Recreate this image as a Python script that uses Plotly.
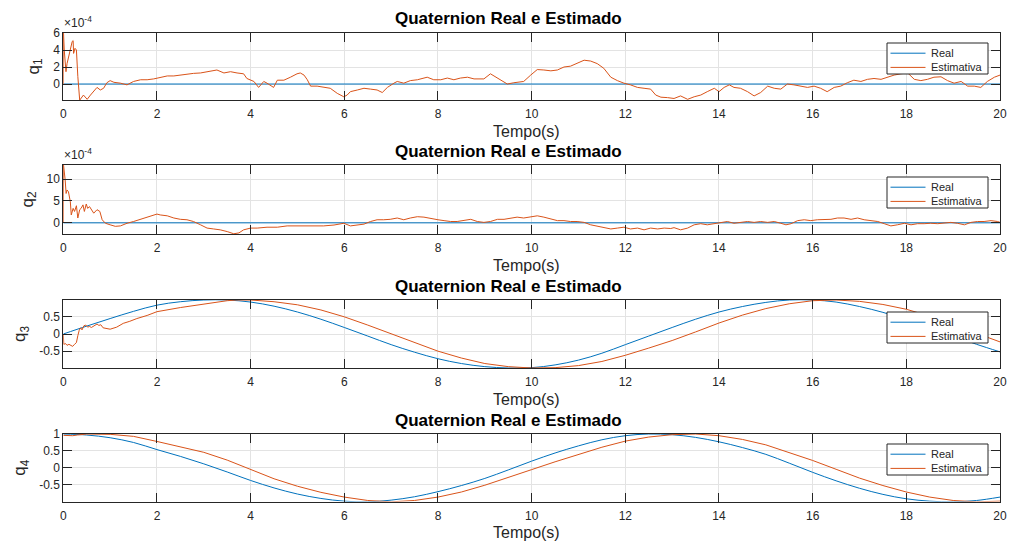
import plotly.graph_objects as go

# ---------------------------------------------------------------- data
SCALE = 1e-4  # q1 and q2 are shown in units of 1e-4

# reference (real) quaternion, q1 and q2 are zero over the whole run
t_real_flat = [0.0, 20.0]
q1_real = [0.0, 0.0]
q2_real = [0.0, 0.0]

t_real = [0.0, 0.5, 1.0, 1.5, 2.0, 2.5, 3.0, 3.5, 4.0, 4.5, 5.0, 5.5, 6.0, 6.5,
          7.0, 7.5, 8.0, 8.5, 9.0, 9.5, 10.0, 10.5, 11.0, 11.5, 12.0, 12.5,
          13.0, 13.5, 14.0, 14.5, 15.0, 15.5, 16.0, 16.5, 17.0, 17.5, 18.0,
          18.5, 19.0, 19.5, 20.0]
q3_real = [0.00, 0.23, 0.45, 0.66, 0.84, 0.94, 0.99, 0.99, 0.93, 0.81, 0.64,
           0.43, 0.19, -0.06, -0.31, -0.53, -0.72, -0.86, -0.95, -0.99, -0.98,
           -0.90, -0.76, -0.56, -0.31, -0.06, 0.19, 0.43, 0.64, 0.80, 0.92,
           0.99, 0.99, 0.93, 0.80, 0.63, 0.42, 0.19, -0.06, -0.30, -0.52]
q4_real = [1.00, 0.97, 0.89, 0.75, 0.54, 0.34, 0.12, -0.12, -0.37, -0.59,
           -0.77, -0.90, -0.98, -1.00, -0.95, -0.85, -0.70, -0.52, -0.31,
           -0.06, 0.20, 0.44, 0.65, 0.83, 0.95, 1.00, 0.98, 0.90, 0.77, 0.60,
           0.40, 0.14, -0.13, -0.38, -0.60, -0.78, -0.91, -0.98, -1.00, -0.96,
           -0.86]

# estimated quaternion
t_q1 = [0, 0.005, 0.02, 0.057, 0.08, 0.11, 0.15, 0.19, 0.21, 0.22, 0.25, 0.28,
        0.31, 0.35, 0.43, 0.51, 0.58, 0.65, 0.72, 0.79, 0.86, 0.93, 1.0, 1.08,
        1.22, 1.36, 1.5, 1.65, 1.79, 1.93, 2.07, 2.22, 2.36, 2.5, 2.64, 2.78,
        2.93, 3.07, 3.28, 3.43, 3.57, 3.71, 3.85, 3.92, 4.07, 4.17, 4.28, 4.35,
        4.42, 4.49, 4.57, 4.71, 4.85, 4.99, 5.06, 5.14, 5.21, 5.28, 5.42, 5.56,
        5.7, 5.85, 5.99, 6.06, 6.13, 6.28, 6.42, 6.56, 6.70, 6.81, 6.92, 7.06,
        7.13, 7.27, 7.41, 7.56, 7.77, 7.91, 8.06, 8.20, 8.34, 8.48, 8.63, 8.77,
        8.98, 9.12, 9.27, 9.41, 9.48, 9.62, 9.76, 9.83, 9.98, 10.12, 10.26,
        10.41, 10.55, 10.69, 10.83, 10.97, 11.12, 11.26, 11.40, 11.54, 11.69,
        11.83, 11.97, 12.11, 12.26, 12.40, 12.54, 12.65, 12.76, 12.90, 13.04,
        13.18, 13.33, 13.47, 13.61, 13.75, 13.90, 14.0, 14.11, 14.22, 14.32,
        14.46, 14.61, 14.75, 14.89, 15.04, 15.18, 15.32, 15.46, 15.6, 15.75,
        15.89, 16.03, 16.17, 16.31, 16.46, 16.6, 16.74, 16.88, 17.03, 17.17,
        17.31, 17.46, 17.6, 17.74, 17.88, 18.03, 18.17, 18.31, 18.45, 18.59,
        18.74, 18.88, 19.02, 19.17, 19.31, 19.45, 19.59, 19.73, 19.88, 20.0]
q1_est = [0, 6.0, 4.0, 1.45, 2.4, 3.2, 4.0, 5.0, 5.1, 3.6, 4.2, 4.0, 0.9, -1.9,
          -1.3, -1.8, -1.3, -0.9, -0.4, -0.7, -0.5, 0.15, 0.4, 0.2, 0.1, -0.1,
          0.3, 0.5, 0.5, 0.6, 0.8, 0.95, 0.95, 1.05, 1.2, 1.25, 1.3, 1.45, 1.65,
          1.3, 1.45, 1.3, 1.2, 0.65, 0.3, -0.4, 0.3, 0.1, -0.1, -0.4, 0.45,
          0.45, 0.8, 1.2, 1.3, 1.05, 0.5, -0.25, -0.25, -0.4, -0.5, -1.1, -1.5,
          -1.3, -0.9, -0.7, -0.5, -0.6, -0.7, -1.0, -0.4, 0.1, 0.3, 0.1, 0.4,
          0.5, 0.8, 0.5, 0.5, 0.7, 0.5, 0.7, 0.8, 0.6, 0.6, 1.2, 0.7, 0.3, 0.0,
          0.15, 0.3, 0.3, 1.05, 1.7, 1.65, 1.55, 1.65, 2.0, 2.1, 2.4, 2.8, 2.7,
          2.4, 1.85, 0.8, 0.4, 0.1, -0.1, -0.4, -0.5, -0.6, -1.3, -1.55, -1.6,
          -1.7, -1.4, -1.8, -1.5, -1.3, -0.9, -0.5, -0.9, -0.4, -0.1, -0.4,
          -0.5, -0.9, -1.4, -1.0, -0.25, -0.5, -0.6, 0.0, -0.1, -0.25, -0.4,
          -0.25, -0.5, -0.9, -0.4, -0.25, 0.15, 0.45, 0.3, 0.55, 0.65, 0.55,
          0.8, 1.05, 1.2, 1.3, 0.55, 0.4, 0.55, 0.8, 0.85, 0.4, 0.1, 0.3, -0.25,
          -0.25, -0.4, 0.3, 0.8, 1.05]

t_q2 = [0, 0.005, 0.04, 0.06, 0.08, 0.11, 0.15, 0.17, 0.21, 0.24, 0.28, 0.31,
        0.35, 0.38, 0.42, 0.45, 0.49, 0.52, 0.56, 0.59, 0.65, 0.72, 0.78, 0.83,
        0.9, 1.0, 1.11, 1.22, 1.36, 1.5, 1.65, 1.79, 1.93, 2.0, 2.07, 2.22,
        2.36, 2.5, 2.64, 2.78, 2.93, 3.07, 3.21, 3.35, 3.5, 3.64, 3.75, 3.85,
        4.0, 4.14, 4.35, 4.57, 4.78, 5.06, 5.35, 5.56, 5.78, 5.92, 5.99, 6.13,
        6.28, 6.42, 6.56, 6.70, 6.84, 6.98, 7.13, 7.27, 7.41, 7.56, 7.70, 7.84,
        8.0, 8.13, 8.27, 8.41, 8.56, 8.70, 8.84, 8.98, 9.12, 9.27, 9.41, 9.55,
        9.69, 9.83, 9.98, 10.12, 10.26, 10.41, 10.55, 10.69, 10.83, 10.97,
        11.12, 11.26, 11.40, 11.54, 11.69, 11.83, 11.97, 12.11, 12.26, 12.40,
        12.54, 12.69, 12.83, 12.97, 13.04, 13.18, 13.33, 13.47, 13.61, 13.75,
        13.90, 14.04, 14.18, 14.32, 14.46, 14.61, 14.75, 14.89, 15.04, 15.18,
        15.32, 15.43, 15.54, 15.68, 15.82, 15.96, 16.1, 16.25, 16.39, 16.53,
        16.67, 16.82, 16.96, 17.1, 17.25, 17.39, 17.53, 17.67, 17.81, 17.96,
        18.1, 18.24, 18.38, 18.52, 18.67, 18.81, 18.95, 19.09, 19.24, 19.38,
        19.52, 19.66, 19.81, 19.95, 20.0]
q2_est = [0, 13.2, 9.8, 6.7, 7.5, 7.1, 4.8, 1.8, 3.3, 2.6, 3.9, 1.1, 3.0, 3.3,
          4.1, 2.6, 4.3, 3.3, 3.7, 3.1, 2.2, 3.0, 2.6, 0.7, -0.1, -0.45, -0.8,
          -0.7, -0.1, 0.3, 0.8, 1.3, 1.8, 2.0, 1.8, 1.6, 1.1, 0.8, 0.7, 0.3,
          -0.45, -1.2, -1.4, -1.6, -2.0, -2.5, -2.3, -1.6, -1.2, -1.2, -1.0,
          -1.0, -0.7, -0.7, -0.8, -0.7, -0.5, -0.2, -0.1, -0.7, -0.45, -0.3,
          0.3, 0.7, 0.7, 0.8, 1.1, 0.7, 1.1, 1.4, 1.3, 1.1, 0.7, 0.5, 0.3, 0.3,
          0.5, 0.8, 0.3, 0.1, 0.3, 0.8, 0.8, 1.1, 1.3, 1.1, 1.3, 1.6, 1.3, 0.8,
          0.5, 0.5, 0.3, 0.3, 0.1, -0.45, -0.8, -1.2, -1.4, -1.2, -1.0, -1.4,
          -1.2, -1.6, -1.2, -1.4, -1.2, -1.3, -1.1, -1.6, -1.2, -0.45, -0.2,
          -0.45, -0.2, -0.1, 0.3, -0.1, 0.1, 0.3, 0.1, 0.3, 0.1, 0.3, -0.1,
          -0.45, -0.2, 0.5, 0.7, 0.5, 0.7, 0.8, 0.8, 1.1, 1.1, 0.8, 1.1, 0.7,
          0.5, 0.3, -0.2, -0.7, -0.45, -0.1, -0.45, -0.2, -0.2, -0.1, -0.2,
          -0.1, 0.1, -0.1, -0.45, 0.1, 0.3, 0.3, 0.5, 0.3, 0.1]

t_q3 = [0, 0.01, 0.05, 0.08, 0.12, 0.16, 0.2, 0.24, 0.28, 0.31, 0.34, 0.37,
        0.40, 0.44, 0.48, 0.52, 0.56, 0.6, 0.64, 0.68, 0.72, 0.76, 0.8, 0.85,
        0.9, 0.95, 1.0, 1.14, 1.28, 1.42, 1.57, 1.79, 2.0, 2.5, 3.0, 3.5, 3.7,
        4.0, 4.5, 5.0, 5.5, 6.0, 6.5, 7.0, 7.5, 8.0, 8.5, 9.0, 9.5, 10.0, 10.5,
        11.0, 11.5, 12.0, 12.5, 13.0, 13.5, 14.0, 14.5, 15.0, 15.5, 16.0, 16.5,
        17.0, 17.5, 18.0, 18.5, 19.0, 19.5, 20.0]
q3_est = [0, -0.30, -0.28, -0.33, -0.30, -0.32, -0.36, -0.30, -0.25, -0.05,
          0.11, 0.18, 0.12, 0.24, 0.26, 0.20, 0.22, 0.19, 0.22, 0.27, 0.29,
          0.25, 0.27, 0.18, 0.16, 0.15, 0.14, 0.20, 0.31, 0.37, 0.45, 0.54,
          0.65, 0.77, 0.88, 0.97, 0.99, 0.99, 0.94, 0.85, 0.70, 0.50, 0.26,
          0.00, -0.26, -0.50, -0.70, -0.86, -0.95, -0.99, -0.98, -0.92, -0.80,
          -0.62, -0.41, -0.19, 0.06, 0.32, 0.55, 0.74, 0.88, 0.97, 0.99, 0.95,
          0.86, 0.72, 0.52, 0.27, 0.03, -0.23]

t_q4 = [0, 0.1, 0.2, 0.3, 0.4, 0.5, 1.0, 1.5, 2.0, 2.5, 3.0, 3.5, 4.0, 4.5,
        5.0, 5.5, 6.0, 6.5, 7.0, 7.5, 8.0, 8.5, 9.0, 9.5, 10.0, 10.5, 11.0,
        11.5, 12.0, 12.5, 13.0, 13.5, 14.0, 14.5, 15.0, 15.5, 16.0, 16.5, 17.0,
        17.5, 18.0, 18.5, 19.0, 19.5, 20.0]
q4_est = [0.96, 0.95, 0.95, 0.97, 0.99, 1.00, 0.99, 0.93, 0.78, 0.63, 0.46,
          0.23, -0.05, -0.32, -0.54, -0.72, -0.86, -0.96, -1.00, -0.96, -0.86,
          -0.71, -0.51, -0.29, -0.05, 0.18, 0.40, 0.61, 0.79, 0.91, 0.98, 1.00,
          0.95, 0.84, 0.68, 0.46, 0.22, -0.04, -0.30, -0.52, -0.71, -0.86,
          -0.96, -1.00, -0.98]

x_ticks = [0, 2, 4, 6, 8, 10, 12, 14, 16, 18, 20]
legend_names = ["Real", "Estimativa"]

# ---------------------------------------------------------------- layout helpers
W, H = 1009, 546
BLUE, ORANGE = "#0072BD", "#D95319"
AX_COLOR = "#262626"
GRID = "#e3e3e3"
FONT = "Liberation Sans"
X_LEFT, X_RIGHT = 63.3, 1000.0


def px_x(p):
    return p / W


def px_y(p):
    return 1 - p / H


panels = [
    dict(top=33, bot=100, rng=[-1.88 * SCALE, 6.0 * SCALE],
         tv=[0, 2 * SCALE, 4 * SCALE, 6 * SCALE], tt=["0", "2", "4", "6"],
         name="q<sub>1</sub>", lab_x=34, exp=True, leg_top=43,
         t_r=t_real_flat, r=q1_real, t_e=t_q1,
         e=[v * SCALE for v in q1_est], shape="linear"),
    dict(top=165, bot=234, rng=[-2.55 * SCALE, 13.2 * SCALE],
         tv=[0, 5 * SCALE, 10 * SCALE], tt=["0", "5", "10"],
         name="q<sub>2</sub>", lab_x=28, exp=True, leg_top=177,
         t_r=t_real_flat, r=q2_real, t_e=t_q2,
         e=[v * SCALE for v in q2_est], shape="linear"),
    dict(top=300, bot=368, rng=[-0.99, 0.99],
         tv=[-0.5, 0, 0.5], tt=["-0.5", "0", "0.5"],
         name="q<sub>3</sub>", lab_x=21, exp=False, leg_top=312,
         t_r=t_real, r=q3_real, t_e=t_q3, e=q3_est, shape="spline"),
    dict(top=434, bot=501.5, rng=[-0.99, 1.0],
         tv=[-0.5, 0, 0.5, 1], tt=["-0.5", "0", "0.5", "1"],
         name="q<sub>4</sub>", lab_x=21, exp=False, leg_top=444,
         t_r=t_real, r=q4_real, t_e=t_q4, e=q4_est, shape="spline"),
]

fig = go.Figure()
layout = dict(
    width=W, height=H,
    margin=dict(l=0, r=0, t=0, b=0, autoexpand=False),
    paper_bgcolor="white", plot_bgcolor="white",
    font=dict(family=FONT, color=AX_COLOR, size=12),
    showlegend=False,
)
annotations = []
shapes = []

# legend box geometry (px, relative to the box's top edge)
LEG_LEFT, LEG_RIGHT = 887, 988
LEG_H = 31
LEG_ROWS = [10.2, 24.4]

for i, p in enumerate(panels, start=1):
    sfx = "" if i == 1 else str(i)
    xa, ya = f"x{sfx}", f"y{sfx}"

    fig.add_trace(go.Scatter(
        x=p["t_r"], y=p["r"], mode="lines", name=legend_names[0],
        line=dict(color=BLUE, width=1, shape=p["shape"]),
        xaxis=xa, yaxis=ya))
    fig.add_trace(go.Scatter(
        x=p["t_e"], y=p["e"], mode="lines", name=legend_names[1],
        line=dict(color=ORANGE, width=1, shape="linear"),
        xaxis=xa, yaxis=ya))

    dom_y = [px_y(p["bot"]), px_y(p["top"])]
    axis_common = dict(
        showline=True, linecolor=AX_COLOR, linewidth=1, mirror="ticks",
        ticks="inside", ticklen=9, tickcolor=AX_COLOR, tickwidth=1,
        showgrid=True, gridcolor=GRID, gridwidth=1, zeroline=False,
        automargin=False,
        tickfont=dict(family=FONT, size=12, color=AX_COLOR),
    )
    layout[f"xaxis{sfx}"] = dict(
        domain=[px_x(X_LEFT), px_x(X_RIGHT)], range=[0, 20],
        tickvals=x_ticks, anchor=ya, ticklabelstandoff=3, **axis_common)
    layout[f"yaxis{sfx}"] = dict(
        domain=dom_y, range=p["rng"], tickvals=p["tv"], ticktext=p["tt"],
        anchor=xa, **axis_common)

    # legend box
    top = p["leg_top"]
    shapes.append(dict(
        type="rect", xref="paper", yref="paper", layer="above",
        x0=px_x(LEG_LEFT), x1=px_x(LEG_RIGHT), y0=px_y(top + LEG_H), y1=px_y(top),
        line=dict(color=AX_COLOR, width=1), fillcolor="white"))
    for color, name, dy in zip([BLUE, ORANGE], legend_names, LEG_ROWS):
        yy = px_y(top + dy)
        shapes.append(dict(
            type="line", xref="paper", yref="paper", layer="above",
            x0=px_x(890.5), x1=px_x(925.5), y0=yy, y1=yy,
            line=dict(color=color, width=1)))
        annotations.append(dict(
            text=name, x=px_x(928.5), y=yy, xref="paper", yref="paper",
            showarrow=False, xanchor="left", yanchor="middle",
            font=dict(family=FONT, size=11, color=AX_COLOR)))

    # title
    annotations.append(dict(
        text="<b>Quaternion Real e Estimado</b>", x=px_x(508.5), y=px_y(p["top"] - 14),
        xref="paper", yref="paper", showarrow=False, xanchor="center", yanchor="middle",
        font=dict(family=FONT, size=17, color="black")))
    # x label
    annotations.append(dict(
        text="Tempo(s)", x=px_x(526), y=px_y(p["bot"] + 31),
        xref="paper", yref="paper", showarrow=False, xanchor="center", yanchor="middle",
        font=dict(family=FONT, size=16, color=AX_COLOR)))
    # y label
    annotations.append(dict(
        text=p["name"], x=px_x(p["lab_x"]), y=px_y((p["top"] + p["bot"]) / 2),
        xref="paper", yref="paper", showarrow=False, xanchor="center", yanchor="middle",
        textangle=-90, font=dict(family=FONT, size=17, color=AX_COLOR)))
    if p["exp"]:
        annotations.append(dict(
            text="\u00d710<sup>-4</sup>", x=px_x(X_LEFT - 1), y=px_y(p["top"] - 1),
            xref="paper", yref="paper", showarrow=False, xanchor="left", yanchor="bottom",
            font=dict(family=FONT, size=12, color=AX_COLOR)))

layout["annotations"] = annotations
layout["shapes"] = shapes
fig.update_layout(**layout)
fig.write_html("out.html")
